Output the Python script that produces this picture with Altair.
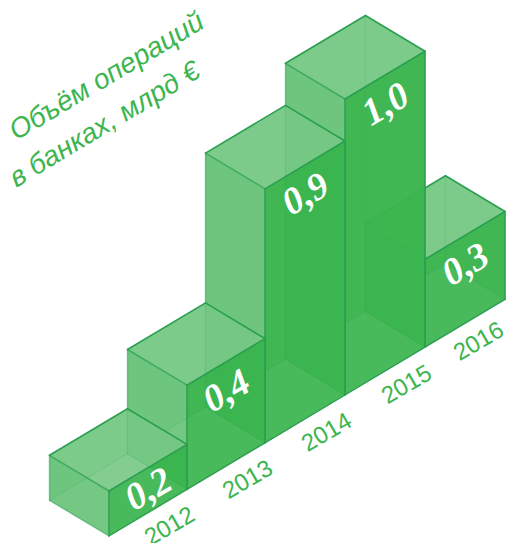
import altair as alt
import numpy as np
import pandas as pd

years = ["2012", "2013", "2014", "2015", "2016"]
labels = ["0,2", "0,4", "0,9", "1,0", "0,3"]
values = [0.152, 0.352, 0.858, 1.0, 0.297]
title_lines = ["Объём операций", "в банках, млрд €"]

W = np.array([80.0, -47.8])
D = np.array([59.5, 35.7])
H = 296.0
ORIGIN = np.array([109.0, 536.0])
unit_w = [0.975, 0.975, 1.0, 1.0, 1.0]

GREEN = "#2fb14a"
LEFT_GREEN = "#62c073"
TOP_GREEN = "#75c884"
FRONT_GREEN = "#3ab54d"
EDGE = "#2a9f50"
TEXT_GREEN = "#3db54f"


def para(fid, p, q, h):
    return [
        dict(face=fid, x=float(p[0]), y=float(p[1]), y2=float(p[1] + h)),
        dict(face=fid, x=float(q[0]), y=float(q[1]), y2=float(q[1] + h)),
    ]


def rhomb(fid, L, w, d):
    xs = sorted({float(L[0]), float(L[0] + w[0]), float(L[0] + d[0]), float(L[0] + w[0] + d[0])})
    ux = [L[0], L[0] + w[0], L[0] + w[0] + d[0]]
    uy = [L[1], L[1] + w[1], L[1] + w[1] + d[1]]
    lx = [L[0], L[0] + d[0], L[0] + w[0] + d[0]]
    ly = [L[1], L[1] + d[1], L[1] + w[1] + d[1]]
    return [dict(face=fid, x=x, y=float(np.interp(x, ux, uy)), y2=float(np.interp(x, lx, ly))) for x in xs]


X = alt.X("x:Q", scale=alt.Scale(domain=[8, 508], nice=False, zero=False), axis=None)
Y = alt.Y("y:Q", scale=alt.Scale(domain=[543, 8], nice=False, zero=False), axis=None)


def faces(rows, op, color=GREEN):
    return alt.Chart(pd.DataFrame(rows)).mark_area(
        interpolate="linear", color=color, opacity=op
    ).encode(x=X, y=Y, y2=alt.Y2("y2"), detail="face:N")


layers = []
pos = ORIGIN.copy()
fronts = []
for i in range(len(years)):
    fronts.append(pos.copy())
    pos = pos + W * unit_w[i]

for i in reversed(range(len(years))):
    w = W * unit_w[i]
    h = values[i] * H
    f = fronts[i]                # front bottom
    lb = f - D                   # left bottom
    bb = lb + w                  # back bottom
    rb = f + w                   # right bottom
    ft, lt, bt, rt = [p - np.array([0, h]) for p in (f, lb, bb, rb)]
    layers.append(faces(para("back_l", lt, bt, h), 0.05))
    layers.append(faces(para("back_r", bt, rt, h), 0.05))
    layers.append(faces(para("left", lt, ft, h), 0.92, LEFT_GREEN))
    layers.append(faces(rhomb("top", lt, w, D), 0.94, TOP_GREEN))
    layers.append(faces(para("front", ft, rt, h), 0.97, FRONT_GREEN))
    layers.append(faces(rhomb("floor", lb, w, D), 0.05, "#ffffff"))
    segs = [
        (bt, bb, 0.14, 1.2), (lb, bb, 0.14, 1.2), (bb, rb, 0.14, 1.2),
        (lt, lb, 0.55, 1.4), (lb, f, 0.55, 1.4),
        (lt, ft, 0.75, 1.5),
        (lt, bt, 1, 1.6), (bt, rt, 1, 1.6), (rt, ft, 1, 1.6),
        (ft, f, 0.9, 1.6), (rt, rb, 1, 1.6), (f, rb, 1, 1.4),
    ]
    seg_rows = []
    for k, (a, b, o, sw) in enumerate(segs):
        seg_rows.append(dict(seg=k, x=float(a[0]), y=float(a[1]), o=o, sw=sw, n=0))
        seg_rows.append(dict(seg=k, x=float(b[0]), y=float(b[1]), o=o, sw=sw, n=1))
    layers.append(
        alt.Chart(pd.DataFrame(seg_rows)).mark_line(color=EDGE, strokeCap="round").encode(
            x=X, y=Y,
            detail="seg:N",
            order=alt.Order("n:Q"),
            opacity=alt.Opacity("o:Q", scale=None),
            strokeWidth=alt.StrokeWidth("sw:Q", scale=None),
        )
    )

# value labels on the front faces
lab_rows = []
year_rows = []
for i in range(len(years)):
    w = W * unit_w[i]
    h = values[i] * H
    c = fronts[i] + w / 2
    off = min(30.0, h / 2)
    lab_rows.append(dict(x=float(c[0] + 1), y=float(c[1] - h + off), t=labels[i]))
    # last label is kept clear of the right edge of the drawing
    nudge = -8 if i == len(years) - 1 else 0
    year_rows.append(dict(x=float(c[0] + 22 + nudge), y=float(c[1] + 14 - nudge * 0.58), t=years[i]))

layers.append(
    alt.Chart(pd.DataFrame(lab_rows)).mark_text(
        font="Liberation Serif", fontWeight="bold", fontStyle="italic", fontSize=38,
        color="white", angle=330, align="center", baseline="middle",
    ).encode(x=X, y=Y, text="t:N")
)
layers.append(
    alt.Chart(pd.DataFrame(year_rows)).mark_text(
        font="Liberation Sans", fontSize=24, color=TEXT_GREEN,
        angle=330, align="center", baseline="middle",
    ).encode(x=X, y=Y, text="t:N")
)
title_df = pd.DataFrame([
    dict(x=107, y=77, t=title_lines[0]),
    dict(x=105, y=125, t=title_lines[1]),
])
layers.append(
    alt.Chart(title_df).mark_text(
        font="Liberation Sans", fontStyle="italic", fontSize=28, color=TEXT_GREEN,
        angle=329, align="center", baseline="middle",
    ).encode(x=X, y=Y, text="t:N")
)

chart = alt.layer(*layers).properties(
    width=500, height=535, padding=0,
    autosize=alt.AutoSizeParams(type="none"),
).configure_view(strokeWidth=0)

chart.save("out.html", embed_options={"renderer": "svg", "actions": False})
